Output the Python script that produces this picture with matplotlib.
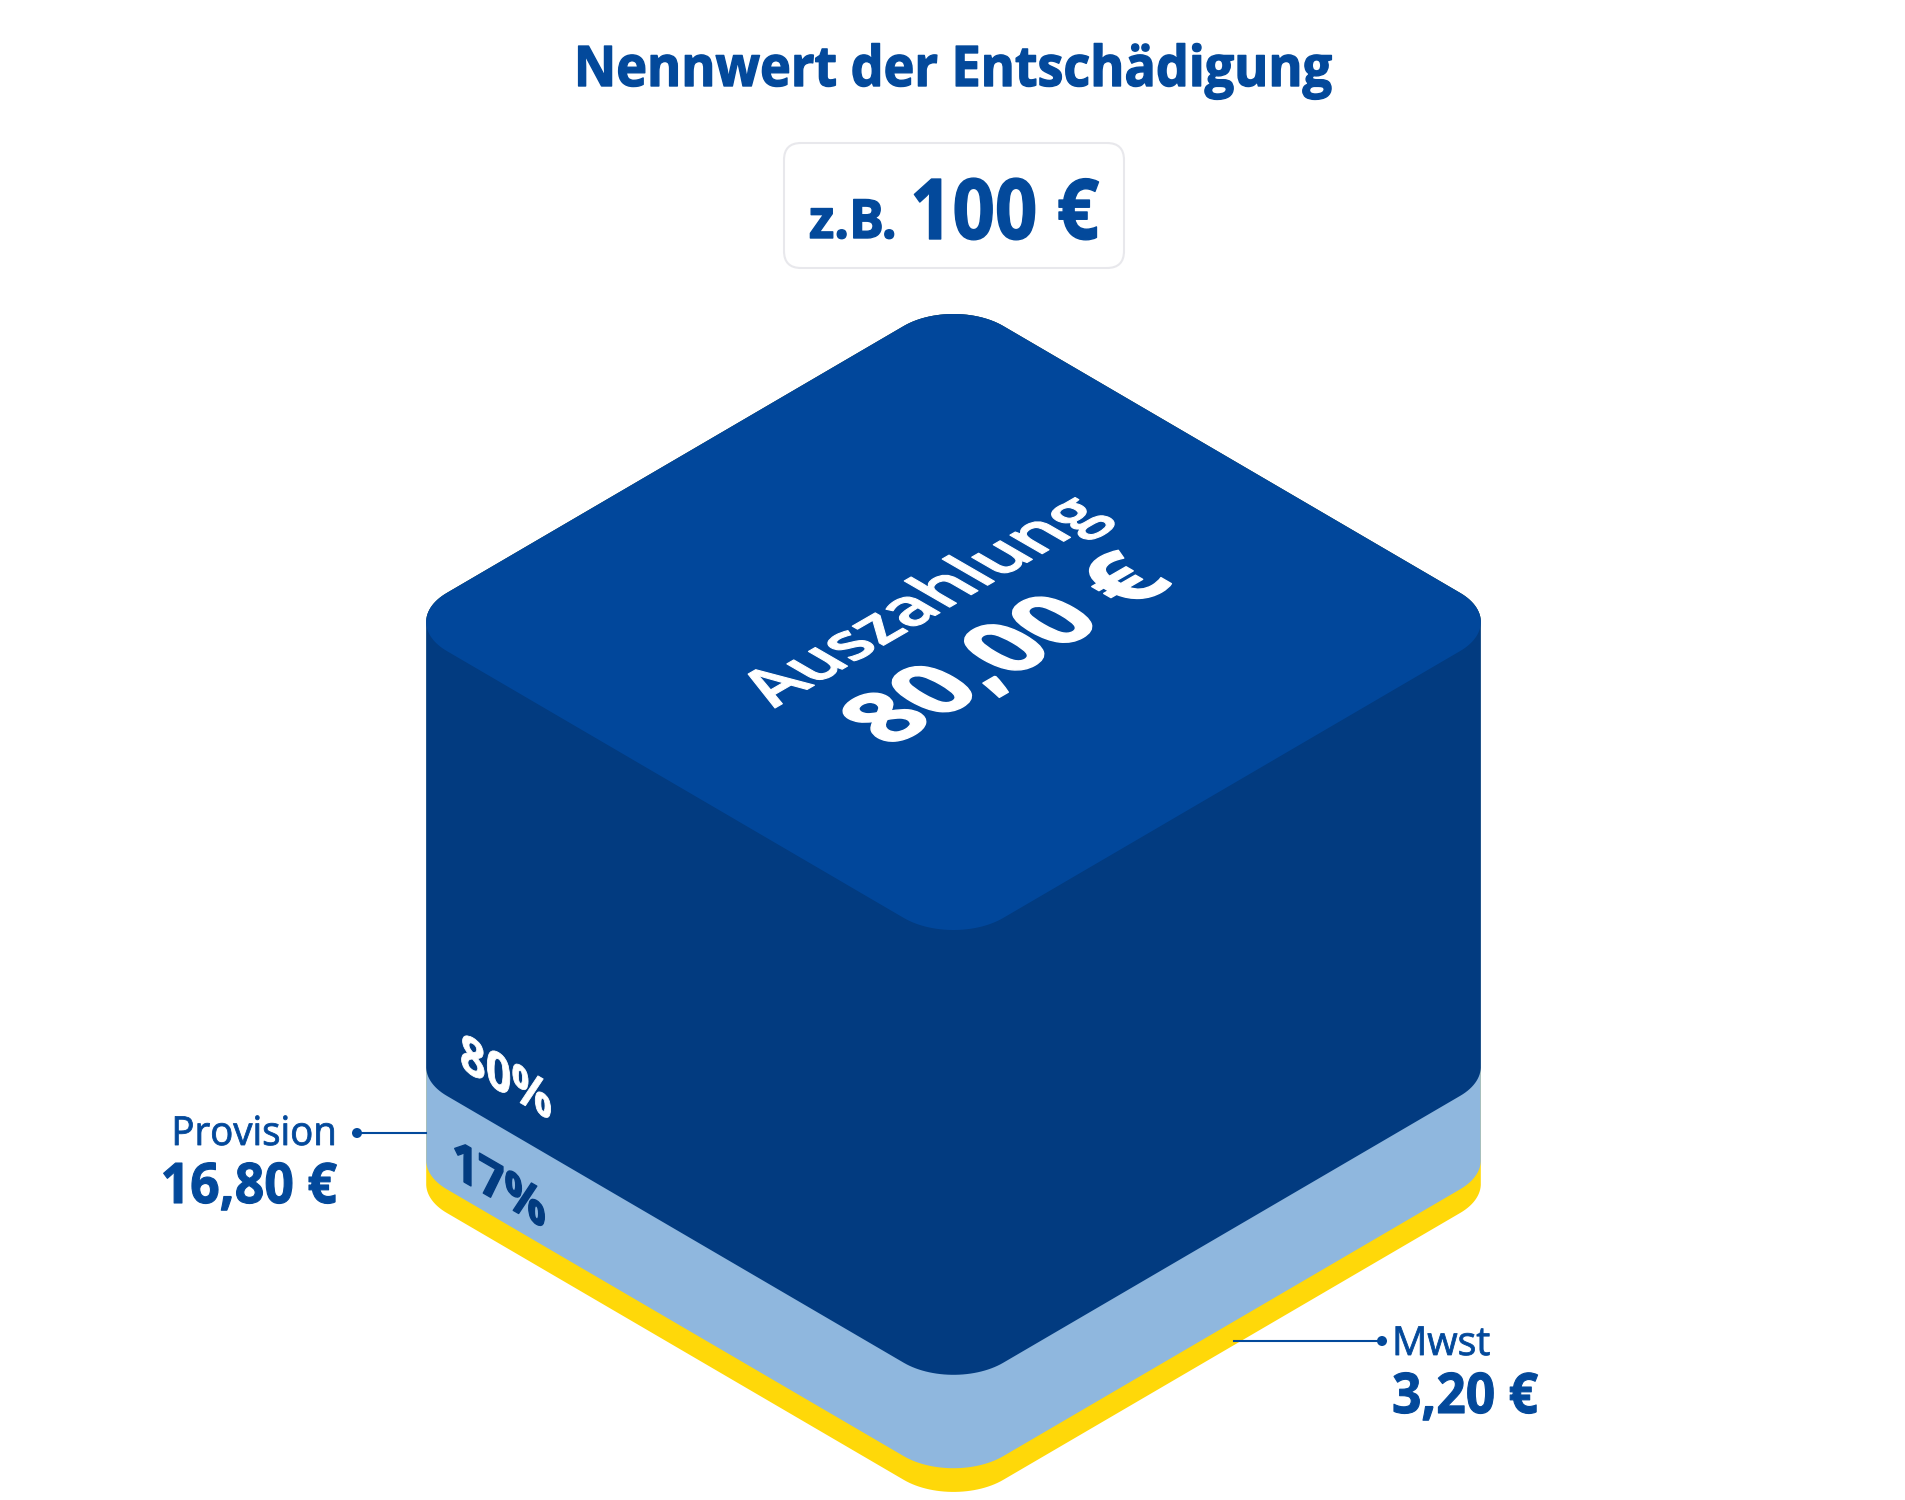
import numpy as np
import matplotlib
matplotlib.use("Agg")
import matplotlib.pyplot as plt
import matplotlib.patheffects as pe
from matplotlib.patches import Polygon, FancyBboxPatch, Circle
from matplotlib.transforms import Affine2D

# ---- data ----
layer_names = ["Auszahlung", "Provision", "Mwst"]
layer_values = [80.00, 16.80, 3.20]
layer_labels = ["80,00 €", "16,80 €", "3,20 €"]
percent_labels = ["80%", "17%"]
title = "Nennwert der Entschädigung"
example_prefix = "z.B."
example_value = "100 €"

BLUE = "#03499B"
TOP = "#01479B"
DARK = "#023B80"
LIGHT = "#8FB7DE"
YELLOW = "#FFD809"
COLORS = [DARK, LIGHT, YELLOW]

plt.rcParams["font.family"] = ["Open Sans", "DejaVu Sans"]
W, H = 1906, 1500
fig = plt.figure(figsize=(W / 100, H / 100), dpi=100, facecolor="white")
ax = fig.add_axes([0, 0, 1, 1])
ax.set_xlim(0, W)
ax.set_ylim(H, 0)
ax.axis("off")

PX = 0.72  # px -> pt at dpi 100


class Warp(pe.AbstractPathEffect):
    """Apply a linear map to the glyph outlines, around the text anchor."""
    def __init__(self, xy, m, stroke=0.0):
        super().__init__()
        self.xy = ax.transData.transform(xy)
        self.m = m
        self.stroke = stroke

    def draw_path(self, renderer, gc, tpath, affine, rgbFace=None):
        a, b, c, d = self.m
        t = (Affine2D().translate(-self.xy[0], -self.xy[1])
             + Affine2D(np.array([[a, b, 0], [c, d, 0], [0, 0, 1]], float))
             + Affine2D().translate(self.xy[0], self.xy[1]))
        gc0 = renderer.new_gc()
        gc0.copy_properties(gc)
        if self.stroke:
            gc0.set_linewidth(self.stroke)
            gc0.set_foreground(rgbFace)
        renderer.draw_path(gc0, tpath, affine + t, rgbFace)
        gc0.restore()


def label(x, y, s, px, color=BLUE, weight="bold", ha="left", m=(1, 0, 0, 1), stroke=0.0):
    ax.text(x, y, s, fontsize=px * PX, color=color, fontweight=weight, ha=ha,
            va="baseline", path_effects=[Warp((x, y), m, stroke)], zorder=10)


# ---- isometric block ----
CX, CY = 953.5, 622.0
SIDE, RAD = 650.0, 58.0
UNIT = 5.56          # px of height per euro
MIN_H = 23.7         # thinnest layer stays visible
KX, KY = 0.856, 0.5


def outline(dy=0.0, n=30):
    c = SIDE / 2 - RAD
    pts = []
    for (cu, cv, a0) in [(c, -c, -90), (c, c, 0), (-c, c, 90), (-c, -c, 180)]:
        for a in np.radians(np.linspace(a0, a0 + 90, n)):
            pts.append((cu + RAD * np.cos(a), cv + RAD * np.sin(a)))
    pts = np.array(pts)
    x = CX + (pts[:, 0] - pts[:, 1]) * KX
    y = CY + (pts[:, 0] + pts[:, 1]) * KY + dy
    return np.column_stack([x, y])


def extruded(h):
    p = outline()
    i, j = np.argmax(p[:, 0]), np.argmin(p[:, 0])
    lower = p[i:j + 1] + [0, h]
    upper = np.vstack([p[j:], p[:i + 1]])
    return np.vstack([lower, upper])


heights = [max(v * UNIT, MIN_H) for v in layer_values]
tops = np.cumsum(heights)
for k in [2, 1, 0]:
    ax.add_patch(Polygon(extruded(tops[k]), closed=True, fc=COLORS[k], ec="none", zorder=3 - k))
ax.add_patch(Polygon(outline(), closed=True, fc=TOP, ec="none", zorder=5))

# ---- header ----
label(953, 86, title, 56, ha="center", m=(0.93, 0, 0, 1), stroke=1.0)
box = FancyBboxPatch((784 + 17, 143 + 17), 340 - 34, 125 - 34,
                     boxstyle="round,pad=17,rounding_size=17",
                     fc="white", ec="#E8E8EC", lw=1.5, zorder=4)
ax.add_patch(box)
label(809, 238, example_prefix, 54, m=(0.96, 0, 0, 1), stroke=1.0)
label(910, 239, example_value, 84, m=(0.885, 0, 0, 1), stroke=1.0)

# ---- isometric texts ----
TOPFACE = (0.866, -0.866, 0.5, 0.5)
LEFTFACE = (0.866, 0, -0.5, 1)
label(775, 708, layer_names[0], 69, color="white", weight="semibold", m=TOPFACE, stroke=0.8)
label(890, 748, layer_labels[0], 97, color="white", m=TOPFACE, stroke=1.0)
label(460, 1068, percent_labels[0], 52, color="white", m=LEFTFACE, stroke=0.6)
label(452, 1175, percent_labels[1], 53, color=DARK, m=LEFTFACE, stroke=1.0)

# ---- call-outs ----
ax.plot([357, 426], [1133, 1133], color=BLUE, lw=1.5, zorder=6)
ax.add_patch(Circle((357, 1133), 5, fc=BLUE, ec="none", zorder=6))
label(337, 1145, layer_names[1], 40, weight="normal", ha="right", m=(0.96, 0, 0, 1), stroke=0.6)
label(337, 1203, layer_labels[1], 56, ha="right", m=(0.925, 0, 0, 1), stroke=0.8)

ax.plot([1234, 1382], [1341, 1341], color=BLUE, lw=1.5, zorder=6)
ax.add_patch(Circle((1382, 1341), 5, fc=BLUE, ec="none", zorder=6))
label(1392, 1355, layer_names[2], 40, weight="normal", m=(0.98, 0, 0, 1), stroke=0.6)
label(1392, 1413, layer_labels[2], 56, m=(0.92, 0, 0, 1), stroke=0.8)

fig.savefig("out.png", dpi=100, facecolor="white")
